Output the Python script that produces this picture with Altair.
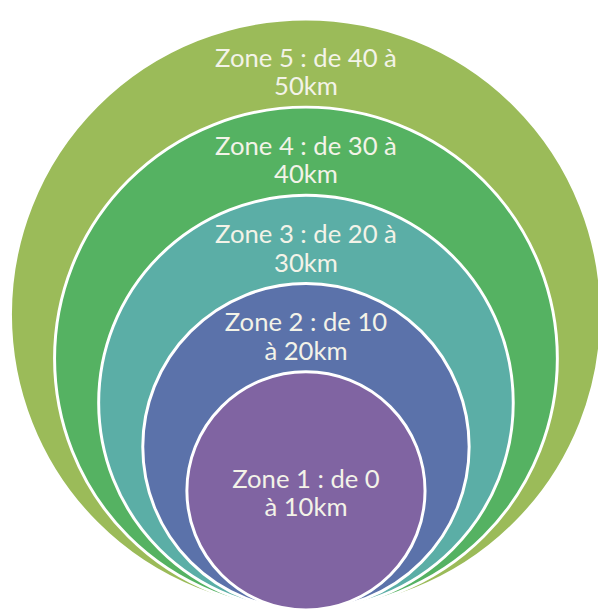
import altair as alt
import pandas as pd

# Data
zones = ["Zone 5", "Zone 4", "Zone 3", "Zone 2", "Zone 1"]
km_from = [40, 30, 20, 10, 0]
km_to = [50, 40, 30, 20, 10]
line1 = ["Zone 5 : de 40 à", "Zone 4 : de 30 à", "Zone 3 : de 20 à", "Zone 2 : de 10", "Zone 1 : de 0"]
line2 = ["50km", "40km", "30km", "à 20km", "à 10km"]
colors = ["#9BBB59", "#55B262", "#5BAEA6", "#5B72AA", "#8064A2"]

df = pd.DataFrame({
    "zone": zones,
    "km_from": km_from,
    "km_to": km_to,
    "label": [a + "\n" + b for a, b in zip(line1, line2)],
    "order": list(range(len(zones))),
})

W, H = 598, 602
CX = 302

yscale = alt.Scale(domain=[0, 50], range=[530, 306.5], nice=False, zero=False)
rscale = alt.Scale(type="linear", domain=[0, 50], range=[76, 299.5], zero=False, nice=False)
cscale = alt.Scale(domain=zones, range=colors)

circles = alt.Chart(df).mark_arc(
    theta=0, theta2=6.2832, stroke="white", strokeWidth=3
).encode(
    x=alt.value(CX),
    y=alt.Y("km_to:Q", scale=yscale, axis=None, stack=None),
    radius=alt.Radius("km_to:Q", scale=rscale, stack=None),
    radius2=alt.value(0),
    color=alt.Color("zone:N", scale=cscale, legend=None),
    order=alt.Order("order:Q"),
)

labels = alt.Chart(df).transform_calculate(
    ly="datum.km_from == 0 ? datum.km_to + 2.5 : 2 * datum.km_to + 8"
).mark_text(
    lineBreak="\n", font="Lato", fontSize=26, color="#F3F3E8",
    align="center", baseline="middle", lineHeight=29
).encode(
    x=alt.value(CX),
    y=alt.Y("ly:Q", scale=yscale, axis=None, stack=None),
    text="label:N",
)

chart = alt.layer(circles, labels).properties(
    width=W, height=H,
    autosize=alt.AutoSizeParams(type="none"),
    padding=0,
).configure(background="white", view=alt.ViewConfig(stroke=None))

chart.save("out.html", embed_options={"renderer": "svg", "actions": False})
